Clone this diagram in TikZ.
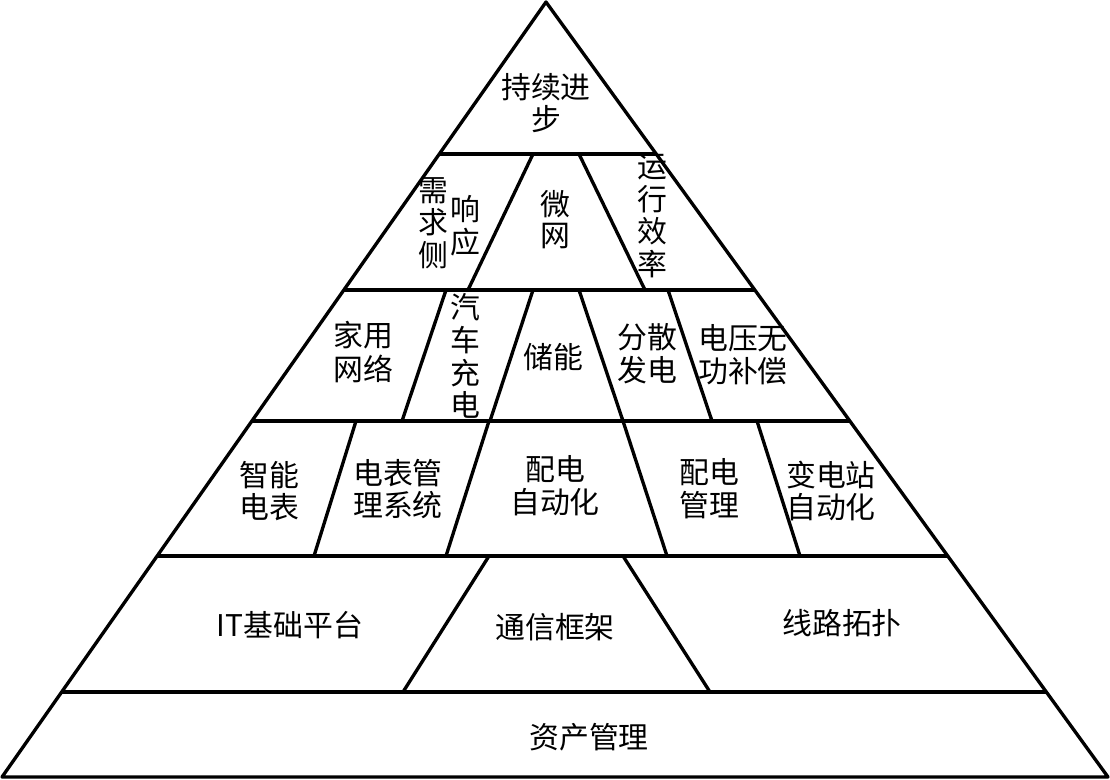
\documentclass[tikz,border=0pt]{standalone}
\usepackage{fontspec}
\newfontfamily\cjk{Noto Sans CJK SC}
\begin{document}
\begin{tikzpicture}[x=0.02cm,y=-0.02cm,line width=1.9pt,line join=round,
  lbl/.style={font=\cjk\fontsize{17}{20}\selectfont,inner sep=0pt}]
\useasboundingbox (0,0) rectangle (1110,779);

\coordinate (apex) at (546,2);
\coordinate (bl) at (2,777);
\coordinate (br) at (1108,777);
\draw (apex) -- (br) -- (bl) -- cycle;

\draw (439.3,154) -- (656.2,154);
\draw (343.8,290) -- (754.8,290);
\draw (251.9,421) -- (849.8,421);
\draw (157.1,556) -- (947.7,556);
\draw (61.7,692) -- (1046.4,692);

\draw (533,154) -- (468,290);
\draw (579,154) -- (645,290);

\draw (446,290) -- (402,421);
\draw (533,290) -- (490,421);
\draw (579,290) -- (623,421);
\draw (668,290) -- (712,421);

\draw (356,421) -- (314,556);
\draw (489,421) -- (446,556);
\draw (623,421) -- (667,556);
\draw (757,421) -- (800,556);

\draw (489,556) -- (403,692);
\draw (623,556) -- (710,692);

\node[lbl] (progress) at (546,103) {\shortstack{持续进\\步}};

\node[lbl] (demand) at (433,223) {\shortstack{需\\求\\侧}};
\node[lbl] (response) at (465,226) {\shortstack{响\\应}};
\node[lbl] (microgrid) at (555,220) {\shortstack{微\\网}};
\node[lbl] (efficiency) at (652,216) {\shortstack{运\\行\\效\\率}};

\node[lbl] (homenet) at (363,352) {\shortstack{家用\\网络}};
\node[lbl] (evcharge) at (465,356) {\shortstack{汽\\车\\充\\电}};
\node[lbl] (storage) at (553,357) {储能};
\node[lbl] (distgen) at (647,354) {\shortstack{分散\\发电}};
\node[lbl] (reactive) at (743,355) {\shortstack{电压无\\功补偿}};

\node[lbl] (smartmeter) at (269,491) {\shortstack{智能\\电表}};
\node[lbl] (metersys) at (398,489) {\shortstack{电表管\\理系统}};
\node[lbl] (distauto) at (555,486) {\shortstack{配电\\自动化}};
\node[lbl] (distmgmt) at (709,489) {\shortstack{配电\\管理}};
\node[lbl] (subauto) at (831,491) {\shortstack{变电站\\自动化}};

\node[lbl] (itbase) at (290,625) {IT基础平台};
\node[lbl] (comms) at (555,627) {通信框架};
\node[lbl] (topology) at (842,623) {线路拓扑};

\node[lbl] (assets) at (589,737) {资产管理};
\end{tikzpicture}
\end{document}
